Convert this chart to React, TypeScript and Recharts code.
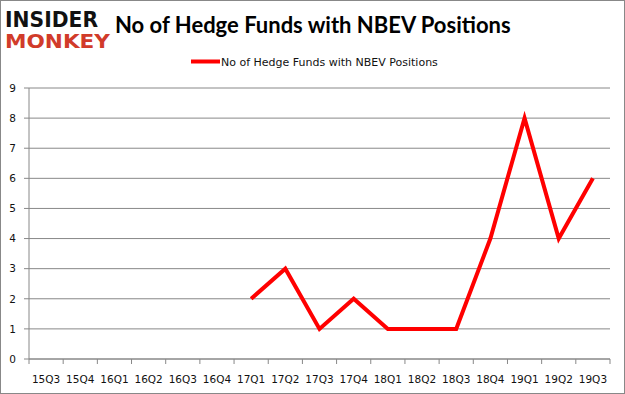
import React from "react";
import { LineChart, Line, XAxis, YAxis, CartesianGrid } from "recharts";

const categories = ["15Q3","15Q4","16Q1","16Q2","16Q3","16Q4","17Q1","17Q2","17Q3","17Q4","18Q1","18Q2","18Q3","18Q4","19Q1","19Q2","19Q3"];
const positions: (number | null)[] = [null,null,null,null,null,null,2,3,1,2,1,1,1,4,8,4,6];
const yTicks = [0,1,2,3,4,5,6,7,8,9];
const seriesName = "No of Hedge Funds with NBEV Positions";
const titleText = "No of Hedge Funds with NBEV Positions";

const data = categories.map((c, i) => ({ q: c, v: positions[i] }));

const W = 625;
const H = 394;
const M = { top: 88, right: 15, bottom: 5, left: 0 };
const Y_W = 29;
const X_H = 30;
const PLOT_W = W - M.left - M.right - Y_W;
const BAND = PLOT_W / categories.length;

const XTick = (props: any) => {
  const { x, y, payload, index } = props;
  const left = x - BAND / 2;
  const right = x + BAND / 2;
  return (
    <g>
      <line x1={left} y1={y} x2={left} y2={y + 5} stroke="#888" strokeWidth={1} />
      {index === categories.length - 1 && (
        <line x1={right} y1={y} x2={right} y2={y + 5} stroke="#888" strokeWidth={1} />
      )}
      <text x={x} y={y + 24} textAnchor="middle" fontFamily="DejaVu Sans" fontSize={10.5} fill="#111">
        {payload.value}
      </text>
    </g>
  );
};

export default function App() {
  return (
    <div style={{ position: "absolute", left: 0, top: 0, width: W, height: H, background: "#fff" }}>
      <LineChart width={W} height={H} data={data} margin={M}>
        <CartesianGrid horizontal={true} vertical={false} stroke="#888" strokeWidth={1} />
        <XAxis
          dataKey="q"
          scale="band"
          interval={0}
          height={X_H}
          axisLine={{ stroke: "#888" }}
          tickLine={false}
          tickSize={0}
          tickMargin={0}
          tick={<XTick />}
        />
        <YAxis
          width={Y_W}
          domain={[0, 9]}
          ticks={yTicks}
          interval={0}
          axisLine={{ stroke: "#888" }}
          tickLine={{ stroke: "#888" }}
          tickSize={5}
          tickMargin={8}
          tick={{ fontFamily: "DejaVu Sans", fontSize: 10.5, fill: "#111" }}
        />
        <Line
          type="linear"
          dataKey="v"
          stroke="#ff0000"
          strokeWidth={4}
          dot={false}
          activeDot={false}
          isAnimationActive={false}
        />
      </LineChart>
      <svg width={W} height={H} style={{ position: "absolute", left: 0, top: 0, pointerEvents: "none" }}>
        <rect x={0.5} y={0.5} width={W - 1} height={H - 1} fill="none" stroke="#888" strokeWidth={1} />
        <text x={5} y={27} fontFamily="DejaVu Sans" fontWeight="bold" fontSize={22} fill="#111" textLength={93} lengthAdjust="spacingAndGlyphs">INSIDER</text>
        <text x={5} y={48} fontFamily="DejaVu Sans" fontWeight="bold" fontSize={19} fill="#d13b2a" textLength={105} lengthAdjust="spacingAndGlyphs">MONKEY</text>
        <text x={115} y={33} fontFamily="Lato" fontWeight="bold" fontSize={22} fill="#000">{titleText}</text>
        <line x1={191} y1={61.5} x2={220} y2={61.5} stroke="#ff0000" strokeWidth={4} />
        <text x={221} y={65.5} fontFamily="DejaVu Sans" fontSize={11} fill="#111">{seriesName}</text>
      </svg>
    </div>
  );
}
